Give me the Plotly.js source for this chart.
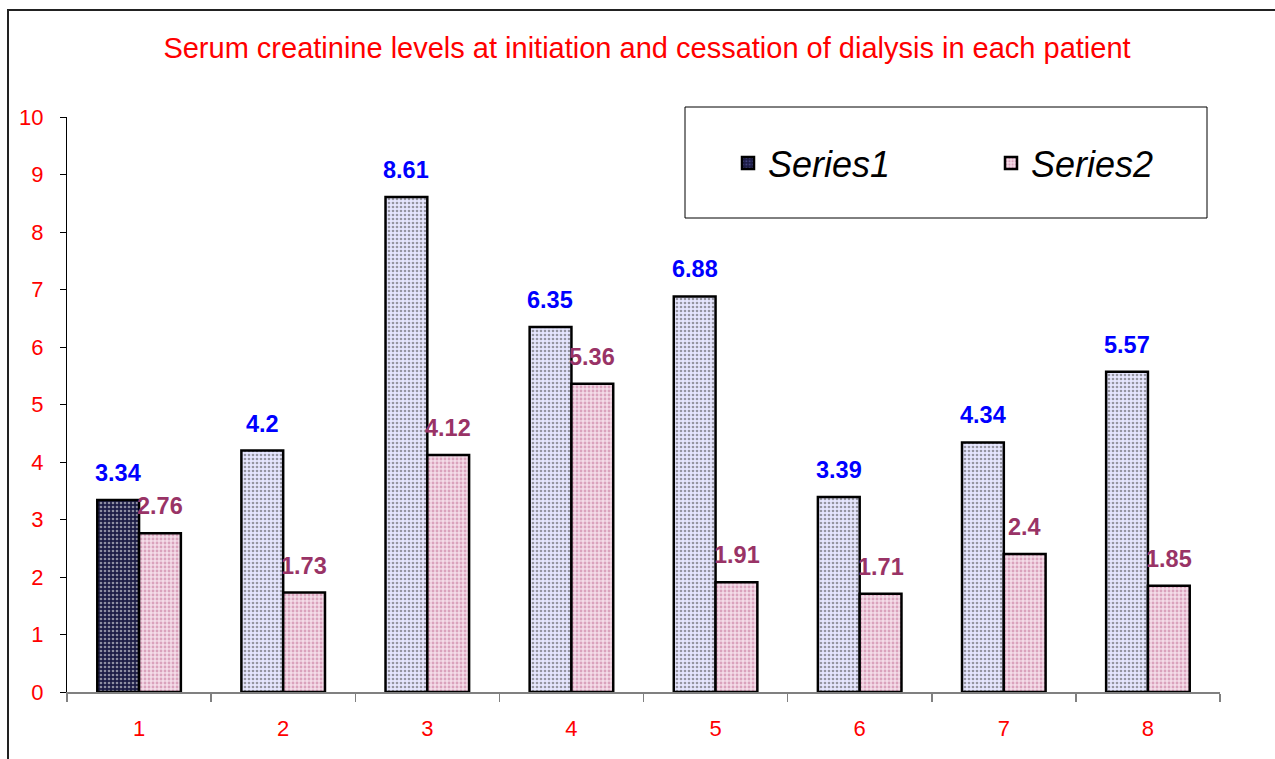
<!DOCTYPE html>
<html>
<head>
<meta charset="utf-8">
<script src="https://cdn.plot.ly/plotly-3.0.1.min.js"></script>
<style>
html,body{margin:0;padding:0;background:#fff;}
#chart{width:1275px;height:759px;}
</style>
</head>
<body>
<div id="chart"></div>
<script>
const categories = ['1','2','3','4','5','6','7','8'];
const series1 = [3.34, 4.2, 8.61, 6.35, 6.88, 3.39, 4.34, 5.57];
const series2 = [2.76, 1.73, 4.12, 5.36, 1.91, 1.71, 2.4, 1.85];
const seriesNames = ['Series1', 'Series2'];
const yTicks = [0,1,2,3,4,5,6,7,8,9,10];

const W = 1275, H = 759;
const M = {l: 67, r: 55, t: 117, b: 67, autoexpand: false};
const pw = W - M.l - M.r, ph = H - M.t - M.b;
const px = v => (v - M.l) / pw;
const py = v => (H - M.b - v) / ph;
const FONT = 'Liberation Sans, Arial, sans-serif';

const s1Bg = series1.map((v, i) => i === 0 ? '#1c1c45' : '#e6e6ff');
const s1Fg = series1.map((v, i) => i === 0 ? '#6a6ab8' : '#8888ff');

const trace1 = {
  type: 'bar', name: seriesNames[0], x: categories, y: series1,
  marker: {
    color: s1Bg,
    line: {color: '#000', width: 2.5},
    pattern: {shape: '.', fgcolor: s1Fg, size: 4, solidity: 0.35, fillmode: 'overlay'}
  },
  hoverinfo: 'x+y'
};
const trace2 = {
  type: 'bar', name: seriesNames[1], x: categories, y: series2,
  marker: {
    color: '#f4dce8',
    line: {color: '#000', width: 2.5},
    pattern: {shape: '.', fgcolor: '#c06890', size: 4, solidity: 0.4, fillmode: 'overlay'}
  },
  hoverinfo: 'x+y'
};

const annotations = [];
categories.forEach((c, i) => {
  annotations.push({x: i, y: series1[i], xref: 'x', yref: 'y', text: '<b>' + series1[i] + '</b>',
    showarrow: false, xshift: -21, yshift: 27, yanchor: 'middle',
    font: {family: FONT, size: 23.5, color: '#0000ff'}});
  annotations.push({x: i, y: series2[i], xref: 'x', yref: 'y', text: '<b>' + series2[i] + '</b>',
    showarrow: false, xshift: 21, yshift: 27, yanchor: 'middle',
    font: {family: FONT, size: 23.5, color: '#993366'}});
});

const layout = {
  width: W, height: H,
  margin: M,
  paper_bgcolor: '#fff', plot_bgcolor: '#fff',
  font: {family: FONT},
  title: {text: 'Serum creatinine levels at initiation and cessation of dialysis in each patient',
    font: {size: 29, color: '#ff0000', family: FONT},
    x: px(647), xref: 'paper', xanchor: 'center', y: 1 - 48 / H, yref: 'container', yanchor: 'middle'},
  barmode: 'group', bargap: 0.42, bargroupgap: 0,
  showlegend: true,
  legend: {orientation: 'h', x: px(728), y: py(163), xanchor: 'left', yanchor: 'middle',
    bgcolor: 'rgba(0,0,0,0)', borderwidth: 0,
    font: {size: 36, color: '#000', style: 'italic', family: FONT},
    entrywidth: 218, entrywidthmode: 'pixels', itemclick: false, itemdoubleclick: false},
  xaxis: {type: 'category', tickson: 'boundaries', ticks: 'outside', ticklen: 8, tickcolor: '#808080', tickwidth: 1.5,
    showline: true, linecolor: '#808080', linewidth: 2, showgrid: false, zeroline: false,
    ticklabelstandoff: 16,
    tickfont: {size: 22, color: '#ff0000', family: FONT}, fixedrange: true},
  yaxis: {range: [0, 10], tickvals: yTicks, ticks: 'outside', ticklen: 6, tickcolor: '#000', tickwidth: 1,
    showline: true, linecolor: '#000', linewidth: 1, showgrid: false, zeroline: false,
    ticklabelstandoff: 12,
    tickfont: {size: 22, color: '#ff0000', family: FONT}, fixedrange: true},
  annotations: annotations,
  shapes: [
    {type: 'rect', xref: 'paper', yref: 'paper', x0: px(8), x1: px(1290), y0: py(10), y1: py(790),
      line: {color: '#222', width: 2}, fillcolor: 'rgba(0,0,0,0)', layer: 'below'},
    {type: 'rect', xref: 'paper', yref: 'paper', x0: px(685), x1: px(1207), y0: py(107), y1: py(218),
      line: {color: '#000', width: 1}, fillcolor: '#fff', layer: 'below'}
  ]
};

Plotly.newPlot('chart', [trace1, trace2], layout, {displayModeBar: false, staticPlot: true});
</script>
</body>
</html>
